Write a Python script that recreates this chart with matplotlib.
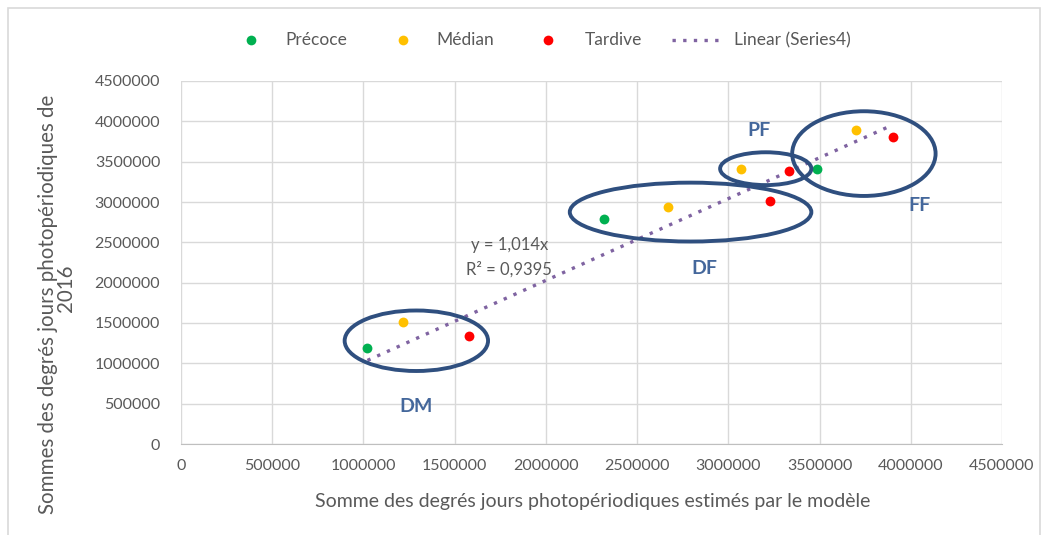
import matplotlib
matplotlib.use("Agg")
import matplotlib.pyplot as plt
from matplotlib.patches import Ellipse, Rectangle
from matplotlib.lines import Line2D
import numpy as np

plt.rcParams['font.family'] = ['Lato', 'DejaVu Sans']

# Data
precoce_x = [1022000, 2320000, 3485000]
precoce_y = [1194000, 2790000, 3410000]
median_x = [1218000, 2670000, 3070000, 3700000]
median_y = [1512000, 2940000, 3410000, 3888000]
tardive_x = [1579000, 3230000, 3330000, 3900000]
tardive_y = [1335000, 3010000, 3390000, 3800000]
slope = 1.014
r2 = "0,9395"

groups = ["DM", "DF", "PF", "FF"]
group_center = [(1290000, 1280000), (2793000, 2875000), (3205000, 3413000), (3743000, 3600000)]
group_size = [(786000, 750000), (1324000, 730000), (500000, 407000), (786000, 1050000)]
group_label_pos = [(1290000, 460000), (2870000, 2170000), (3170000, 3890000), (4050000, 2960000)]

ticks = np.arange(0, 4500001, 500000)

W, H = 1048, 535
fig = plt.figure(figsize=(W/100, H/100), dpi=100)
ax = fig.add_axes([181/W, 1-444/H, (1002-181)/W, (444-81)/H])

def fx(px):
    return px / W

def fy(py):
    return 1 - py / H

# outer chart border
fig.patches.append(Rectangle((fx(8), -0.05), fx(1040-8), 1.05 - 8/H,
                             transform=fig.transFigure, fill=False,
                             edgecolor='#D9D9D9', linewidth=1.2))

ax.set_xlim(0, 4500000)
ax.set_ylim(0, 4500000)
ax.set_xticks(ticks)
ax.set_yticks(ticks)
ax.set_xticklabels([str(t) for t in ticks])
ax.set_yticklabels([str(t) for t in ticks])
ax.grid(True, color='#D9D9D9', linewidth=1.0)
ax.set_axisbelow(True)
for s in ['top', 'right', 'left']:
    ax.spines[s].set_visible(False)
ax.spines['bottom'].set_color('#BFBFBF')
ax.tick_params(axis='both', length=0, labelsize=11.5, colors='#595959')
ax.tick_params(axis='x', pad=11)
ax.tick_params(axis='y', pad=15)

# trendline
all_x = precoce_x + median_x + tardive_x
xx = np.array([min(all_x), max(all_x)])
ax.plot(xx, slope * xx, linestyle=(0, (1, 2.2)), color='#7F63A1', linewidth=2.4, zorder=2)

ax.scatter(precoce_x, precoce_y, s=50, color='#00B050', zorder=3, linewidths=0)
ax.scatter(median_x, median_y, s=50, color='#FFC000', zorder=3, linewidths=0)
ax.scatter(tardive_x, tardive_y, s=50, color='#FF0000', zorder=3, linewidths=0)

for (cx, cy), (w, h), name, (lx, ly) in zip(group_center, group_size, groups, group_label_pos):
    ax.add_patch(Ellipse((cx, cy), w, h, fill=False, edgecolor='#2F4F7F', linewidth=2.8, zorder=4))
    ax.text(lx, ly, name, color='#44679B', fontsize=14, fontweight='bold', ha='center', va='center')

ax.text(1800000, 2467000, "y = 1,014x", color='#595959', fontsize=12, ha='center', va='center')
ax.text(1800000, 2170000, "R² = " + r2, color='#595959', fontsize=12, ha='center', va='center')

fig.text(fx(593), fy(502), "Somme des degrés jours photopériodiques estimés par le modèle",
         fontsize=14, color='#595959', ha='center', va='center')
fig.text(fx(48), fy(304), "Sommes des degrés jours photopériodiques de",
         fontsize=14.8, color='#595959', ha='center', va='center', rotation=90)
fig.text(fx(66), fy(288), "2016",
         fontsize=14.8, color='#595959', ha='center', va='center', rotation=90)

# legend (manual placement)
legend_labels = ["Précoce", "Médian", "Tardive", "Linear (Series4)"]
legend_colors = ['#00B050', '#FFC000', '#FF0000', '#7F63A1']
marker_px = [251, 403, 548]
text_px = [285, 436, 585, 734]
ly = fy(40)
for mxp, c in zip(marker_px, legend_colors[:3]):
    fig.add_artist(Line2D([fx(mxp)], [ly], marker='o', color=c, markersize=7,
                          markeredgewidth=0, transform=fig.transFigure))
fig.add_artist(Line2D([fx(672), fx(722)], [ly, ly], linestyle=(0, (1, 2.2)), color='#7F63A1',
                      linewidth=2.4, transform=fig.transFigure))
for tx, lab in zip(text_px, legend_labels):
    fig.text(fx(tx), ly, lab, fontsize=12.5, color='#595959', ha='left', va='center')

fig.savefig("out.png", dpi=100)
